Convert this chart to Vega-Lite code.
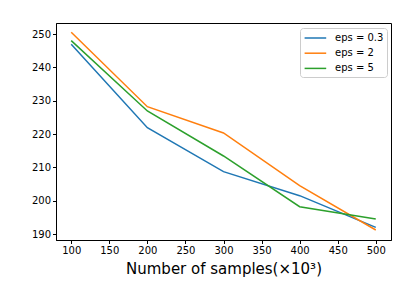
{
  "$schema": "https://vega.github.io/schema/vega-lite/v6.json",
  "width": 335,
  "height": 217,
  "autosize": {"type": "none"},
  "padding": {"left": 56, "top": 23, "right": 7, "bottom": 50},
  "background": "white",
  "config": {
    "font": "DejaVu Sans",
    "view": {"stroke": "black", "strokeWidth": 1},
    "axis": {
      "grid": false,
      "domainColor": "black",
      "tickColor": "black",
      "tickSize": 3.5,
      "labelColor": "black",
      "labelFontSize": 10,
      "labelFont": "DejaVu Sans",
      "titleFont": "DejaVu Sans",
      "titleColor": "black",
      "titleFontWeight": "normal"
    },
    "legend": {
      "orient": "top-right",
      "offset": 4.5,
      "padding": 3,
      "strokeColor": "#cccccc",
      "fillColor": "white",
      "cornerRadius": 3,
      "symbolType": "M-0.9,0H2.7",
      "symbolSize": 144,
      "symbolStrokeWidth": 1.5,
      "labelFontSize": 10,
      "labelFont": "DejaVu Sans",
      "labelColor": "black",
      "rowPadding": 3.2,
      "labelOffset": 18
    }
  },
  "data": {
    "values": [
      {"n": 100, "v": 246.9, "s": "eps = 0.3"},
      {"n": 200, "v": 221.9, "s": "eps = 0.3"},
      {"n": 300, "v": 208.7, "s": "eps = 0.3"},
      {"n": 400, "v": 201.5, "s": "eps = 0.3"},
      {"n": 500, "v": 192.0, "s": "eps = 0.3"},
      {"n": 100, "v": 250.5, "s": "eps = 2"},
      {"n": 200, "v": 228.2, "s": "eps = 2"},
      {"n": 300, "v": 220.3, "s": "eps = 2"},
      {"n": 400, "v": 204.5, "s": "eps = 2"},
      {"n": 500, "v": 191.2, "s": "eps = 2"},
      {"n": 100, "v": 248.0, "s": "eps = 5"},
      {"n": 200, "v": 226.9, "s": "eps = 5"},
      {"n": 300, "v": 213.4, "s": "eps = 5"},
      {"n": 400, "v": 198.2, "s": "eps = 5"},
      {"n": 500, "v": 194.5, "s": "eps = 5"}
    ]
  },
  "mark": {"type": "line", "strokeWidth": 1.5, "clip": true},
  "encoding": {
    "x": {
      "field": "n",
      "type": "quantitative",
      "scale": {"domain": [80, 520], "nice": false, "zero": false},
      "axis": {"values": [100, 150, 200, 250, 300, 350, 400, 450, 500], "title": "Number of samples(×10³)", "titleFontSize": 15, "titlePadding": 6}
    },
    "y": {
      "field": "v",
      "type": "quantitative",
      "scale": {"domain": [188.2, 253.3], "nice": false, "zero": false},
      "axis": {"values": [190, 200, 210, 220, 230, 240, 250], "title": null}
    },
    "color": {
      "field": "s",
      "type": "nominal",
      "scale": {"domain": ["eps = 0.3", "eps = 2", "eps = 5"], "range": ["#1f77b4", "#ff7f0e", "#2ca02c"]},
      "legend": {"title": null}
    }
  }
}
